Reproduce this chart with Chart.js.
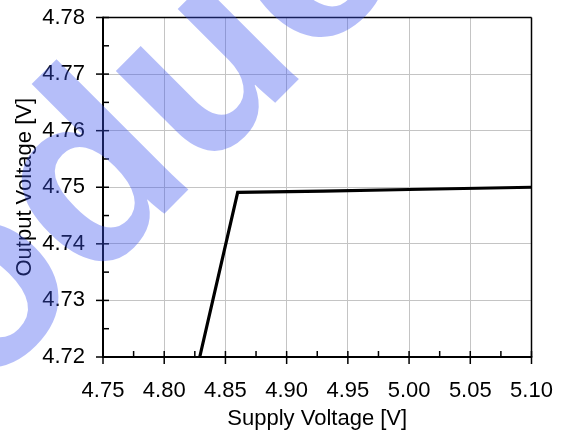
<!DOCTYPE html>
<html><head><meta charset="utf-8">
<script src="https://cdn.jsdelivr.net/npm/chart.js@4/dist/chart.umd.min.js"></script>
<style>html,body{margin:0;padding:0;background:#fff;overflow:hidden}#wrap{width:562px;height:433px}</style>
</head><body><div id="wrap"><canvas id="c" width="562" height="433"></canvas></div>
<script>
// ---- data ----
const supplyVoltage = [4.829, 4.860, 4.930, 5.000, 5.100];
const outputVoltage = [4.7200, 4.7491, 4.7493, 4.7496, 4.7500];
const xTicks = [4.75, 4.80, 4.85, 4.90, 4.95, 5.00, 5.05, 5.10];
const yTicks = [4.72, 4.73, 4.74, 4.75, 4.76, 4.77, 4.78];
const xTitle = 'Supply Voltage [V]';
const yTitle = 'Output Voltage [V]';
const watermarkText = 'Product';

const FONT = '"Liberation Sans", Arial, Helvetica, sans-serif';
const points = supplyVoltage.map((x, i) => ({x, y: outputVoltage[i]}));

const zeroPad = s => { s.paddingLeft = 0; s.paddingRight = 0; s.paddingTop = 0; s.paddingBottom = 0; };

const decorPlugin = {
  id: 'decor',
  afterDraw(chart) {
    const ctx = chart.ctx;
    const {left, right, top, bottom} = chart.chartArea;
    const xs = chart.scales.x, ys = chart.scales.y;
    const seg = (x1, y1, x2, y2) => { ctx.beginPath(); ctx.moveTo(x1, y1); ctx.lineTo(x2, y2); ctx.stroke(); };
    ctx.save();
    ctx.strokeStyle = '#000';
    ctx.lineWidth = 1.5;
    seg(left, top, right, top);
    seg(right, top, right, bottom);
    ctx.lineWidth = 2;
    seg(left, top - 0.75, left, bottom + 1);
    seg(left - 1, bottom, right + 0.75, bottom);
    ctx.lineWidth = 1.5;
    xTicks.forEach((v, i) => {
      const p = xs.getPixelForValue(v);
      seg(p, bottom - 6, p, bottom + 7);
      if (i < xTicks.length - 1) {
        const m = xs.getPixelForValue((v + xTicks[i + 1]) / 2);
        seg(m, bottom - 6, m, bottom);
      }
    });
    yTicks.forEach((v, i) => {
      const p = ys.getPixelForValue(v);
      seg(left - 7, p, left + 6, p);
      if (i < yTicks.length - 1) {
        const m = ys.getPixelForValue((v + yTicks[i + 1]) / 2);
        seg(left, m, left + 6, m);
      }
    });
    ctx.restore();
    // watermark
    ctx.save();
    ctx.translate(-212, 590);
    ctx.rotate(-Math.PI / 4);
    ctx.font = 'bold 256px ' + FONT;
    ctx.fillStyle = 'rgba(60,85,240,0.38)';
    ctx.textBaseline = 'alphabetic';
    ctx.fillText(watermarkText, 0, 0);
    ctx.restore();
  }
};

new Chart(document.getElementById('c'), {
  type: 'scatter',
  data: {
    datasets: [{
      data: points,
      showLine: true,
      borderColor: '#000',
      borderWidth: 3.2,
      pointRadius: 0,
      pointHoverRadius: 0,
      tension: 0,
      fill: false
    }]
  },
  options: {
    responsive: false,
    devicePixelRatio: 1,
    animation: false,
    events: [],
    layout: {padding: {left: 0, top: 17.5, right: 30.5, bottom: 0}},
    plugins: {legend: {display: false}, tooltip: {enabled: false}},
    scales: {
      x: {
        type: 'linear',
        min: 4.75, max: 5.10,
        afterBuildTicks: s => { s.ticks = xTicks.map(v => ({value: v})); },
        afterFit: s => { s.height = 433 - 357; zeroPad(s); },
        ticks: {
          autoSkip: false, maxRotation: 0,
          padding: 21,
          color: '#000',
          font: {family: FONT, size: 22},
          callback: v => Number(v).toFixed(2)
        },
        grid: {color: '#c4c4c4', lineWidth: 1, drawTicks: false},
        border: {display: false},
        title: {display: true, text: xTitle, color: '#000', font: {family: FONT, size: 22}, padding: {top: 0, bottom: 1}}
      },
      y: {
        type: 'linear',
        min: 4.72, max: 4.78,
        afterBuildTicks: s => { s.ticks = yTicks.map(v => ({value: v})); },
        afterFit: s => { s.width = 103; zeroPad(s); },
        ticks: {
          autoSkip: false,
          padding: 18,
          color: '#000',
          font: {family: FONT, size: 22},
          callback: v => Number(v).toFixed(2)
        },
        grid: {color: '#c4c4c4', lineWidth: 1, drawTicks: false},
        border: {display: false},
        title: {display: true, text: yTitle, color: '#000', font: {family: FONT, size: 22}, padding: {top: 11.5, bottom: 0}}
      }
    }
  },
  plugins: [decorPlugin]
});
</script>
</body></html>
